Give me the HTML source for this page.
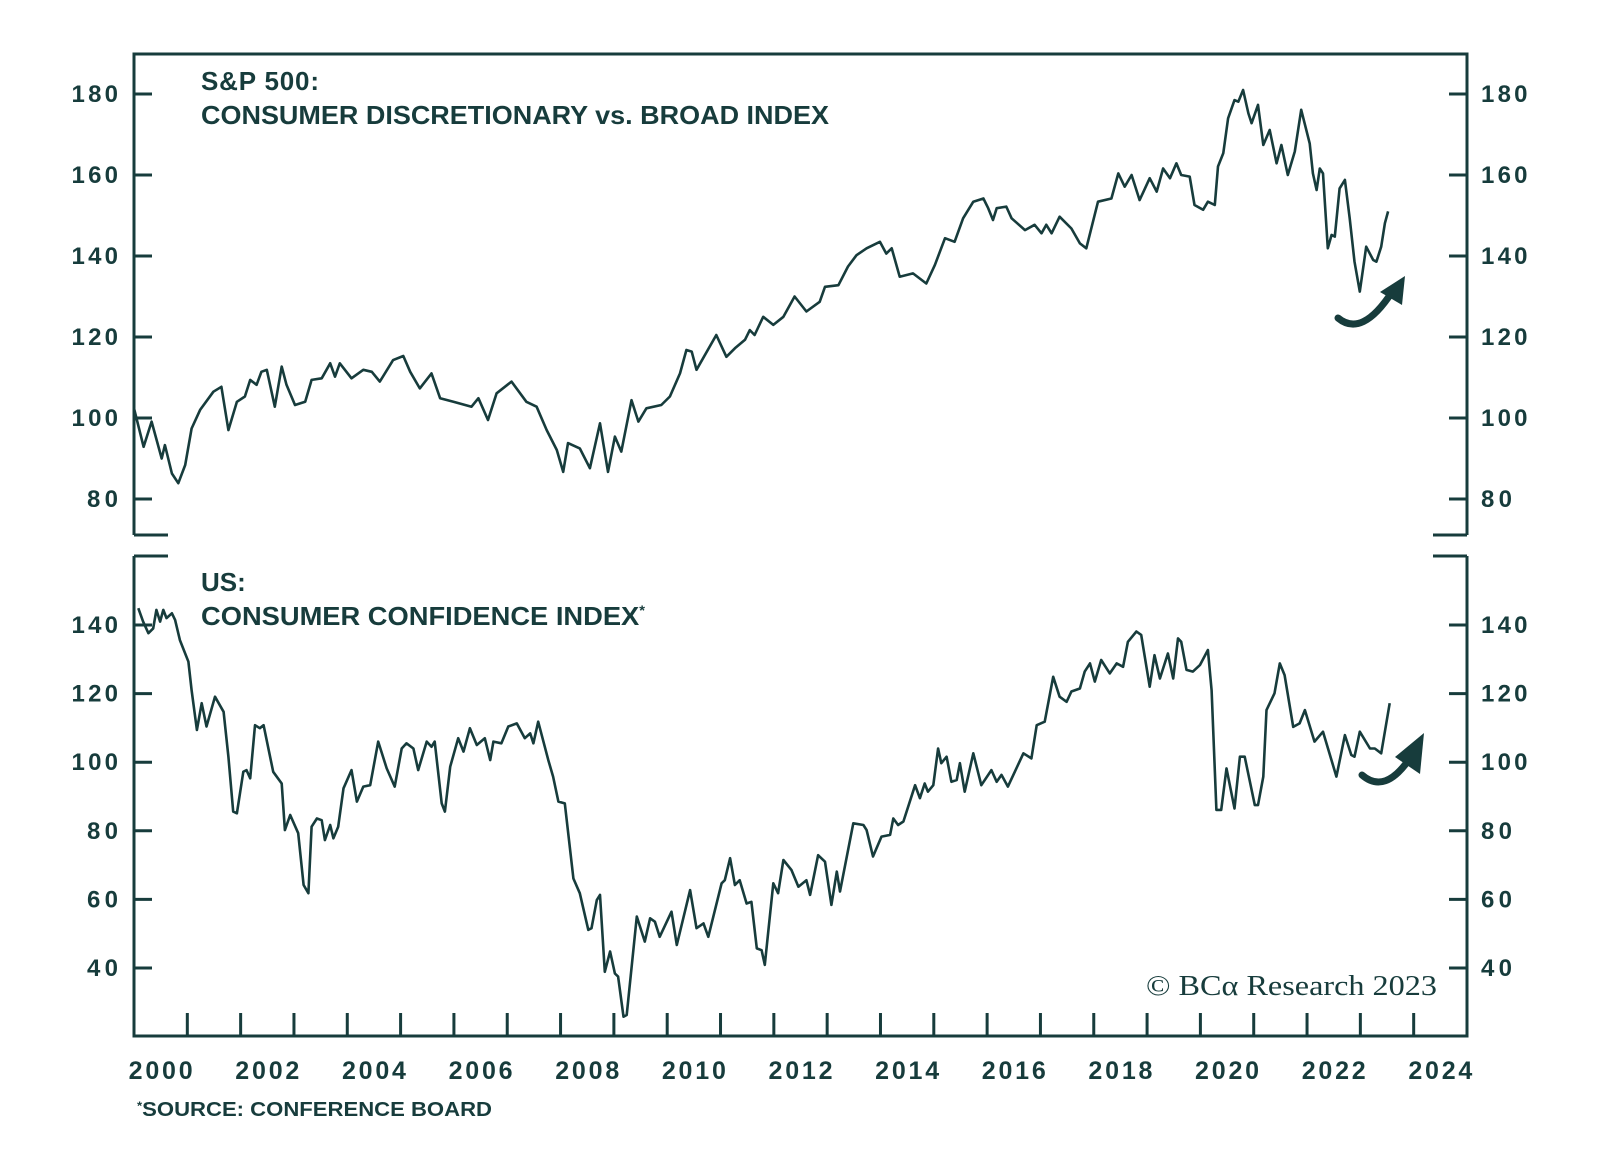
<!DOCTYPE html>
<html><head><meta charset="utf-8"><style>
html,body{margin:0;padding:0;background:#fff;}
svg{display:block;}
text{font-family:"Liberation Sans",sans-serif;fill:#173c3c;}
</style></head><body>
<svg id="chart" width="1600" height="1160" viewBox="0 0 1600 1160">
<g id="frame"></g>
<g id="topG"></g>
<g id="botG"></g>
<text x="201" y="90" font-size="26" font-weight="bold" textLength="118">S&amp;P 500:</text>
<text x="201" y="124" font-size="26" font-weight="bold" textLength="628" lengthAdjust="spacingAndGlyphs">CONSUMER DISCRETIONARY vs. BROAD INDEX</text>
<text x="201" y="591" font-size="26" font-weight="bold">US:</text>
<text x="201" y="625" font-size="26" font-weight="bold" textLength="444" lengthAdjust="spacingAndGlyphs">CONSUMER CONFIDENCE INDEX<tspan font-size="14" dy="-10">*</tspan></text>
<text x="137" y="1116" font-size="20" font-weight="bold" textLength="355" lengthAdjust="spacingAndGlyphs"><tspan font-size="12" dy="-6">*</tspan><tspan dy="6">SOURCE: CONFERENCE BOARD</tspan></text>
<text x="1437" y="995" font-size="28" text-anchor="end" textLength="291" lengthAdjust="spacingAndGlyphs" style="font-family:'Liberation Serif',serif">© BCα Research 2023</text>
<path d="M1338,318 Q1362,338 1392,292" fill="none" stroke="#173c3c" stroke-width="7" stroke-linecap="round"/>
<polygon points="1405,276 1380,292 1402,305" fill="#173c3c"/>
<path d="M1362,775 Q1385,795 1410,758" fill="none" stroke="#173c3c" stroke-width="7" stroke-linecap="round"/>
<polygon points="1424,733 1395,757 1420,774" fill="#173c3c"/>
</svg>
<script>
const yearTicks = [2001,2002,2003,2004,2005,2006,2007,2008,2009,2010,2011,2012,2013,2014,2015,2016,2017,2018,2019,2020,2021,2022,2023,2024];
const yearLabels = [2000,2002,2004,2006,2008,2010,2012,2014,2016,2018,2020,2022,2024];
const topTicks = [80,100,120,140,160,180];
const botTicks = [40,60,80,100,120,140];
const spxYears = [2000,2000.18,2000.33,2000.52,2000.58,2000.71,2000.83,2000.96,2001.08,2001.24,2001.49,2001.64,2001.77,2001.93,2002.08,2002.18,2002.3,2002.39,2002.49,2002.64,2002.77,2002.86,2003.02,2003.21,2003.33,2003.52,2003.68,2003.77,2003.86,2004.08,2004.3,2004.46,2004.61,2004.86,2005.05,2005.18,2005.36,2005.58,2005.74,2005.99,2006.33,2006.46,2006.64,2006.8,2007.08,2007.36,2007.55,2007.74,2007.93,2008.05,2008.14,2008.36,2008.55,2008.74,2008.89,2009.02,2009.14,2009.33,2009.46,2009.61,2009.89,2010.05,2010.24,2010.36,2010.46,2010.55,2010.92,2011.11,2011.27,2011.46,2011.55,2011.64,2011.8,2011.99,2012.18,2012.39,2012.61,2012.86,2012.96,2013.21,2013.39,2013.55,2013.74,2013.99,2014.11,2014.21,2014.36,2014.61,2014.86,2015.02,2015.21,2015.39,2015.55,2015.74,2015.93,2016.02,2016.11,2016.18,2016.36,2016.46,2016.71,2016.89,2017.02,2017.11,2017.21,2017.36,2017.58,2017.74,2017.86,2018.08,2018.33,2018.46,2018.58,2018.71,2018.86,2019.05,2019.18,2019.3,2019.43,2019.55,2019.64,2019.8,2019.89,2020.05,2020.14,2020.27,2020.33,2020.43,2020.52,2020.64,2020.71,2020.8,2020.9,2020.96,2021.08,2021.18,2021.3,2021.43,2021.52,2021.64,2021.77,2021.89,2022.05,2022.11,2022.18,2022.24,2022.3,2022.39,2022.46,2022.52,2022.61,2022.71,2022.8,2022.89,2022.99,2023.11,2023.24,2023.3,2023.39,2023.46,2023.52];
const spxValues = [102.4,92.9,99.1,90,93.3,86.3,83.9,88.4,97.4,102,106.5,107.7,97,104,105.3,109.4,108.2,111.4,111.9,102.8,112.7,108.2,103.2,104,109.4,109.8,113.5,110.2,113.5,109.8,111.9,111.4,109,114.3,115.3,111.4,107.3,111,104.9,104,102.8,104.9,99.5,106.1,109,104,102.8,97,92.1,86.7,93.8,92.5,87.6,98.7,86.7,95.4,91.7,104.4,99.1,102.4,103.2,105.3,111,116.8,116.4,111.9,120.5,115.1,117.2,119.3,121.7,120.5,125,123,125,130,126.3,128.7,132.4,132.8,137.4,140.2,141.9,143.5,140.6,141.9,134.9,135.7,133.2,137.8,144.4,143.5,149.3,153.4,154.2,151.8,148.9,151.8,152.2,149.3,146.4,147.7,145.6,147.7,145.6,149.7,146.8,143.1,141.9,153.4,154.2,160.4,157.1,160,153.8,159.2,155.9,161.6,159.2,162.9,160,159.6,152.6,151.4,153.4,152.6,162.1,165.4,174,178.5,178.1,181,175.2,172.8,177.3,167.4,171.1,162.9,167.4,160,165.8,176.1,167.8,160.4,156.3,161.6,160.4,141.9,145.2,144.8,156.7,158.8,149.3,138.6,131.2,142.3,139,138.6,142.3,148.1,151];
const ccYears = [2000.08,2000.17,2000.27,2000.36,2000.42,2000.49,2000.55,2000.61,2000.71,2000.77,2000.86,2001.02,2001.08,2001.18,2001.27,2001.36,2001.52,2001.68,2001.77,2001.86,2001.93,2002.05,2002.11,2002.18,2002.27,2002.36,2002.43,2002.61,2002.77,2002.83,2002.93,2003.08,2003.18,2003.27,2003.33,2003.43,2003.52,2003.58,2003.68,2003.74,2003.83,2003.93,2004.08,2004.18,2004.3,2004.43,2004.58,2004.74,2004.89,2005.02,2005.11,2005.24,2005.33,2005.49,2005.58,2005.64,2005.77,2005.83,2005.93,2006.08,2006.18,2006.3,2006.43,2006.58,2006.68,2006.74,2006.89,2007.02,2007.18,2007.33,2007.43,2007.49,2007.58,2007.77,2007.86,2007.96,2008.08,2008.24,2008.36,2008.52,2008.58,2008.68,2008.74,2008.83,2008.93,2009.02,2009.08,2009.18,2009.24,2009.43,2009.58,2009.68,2009.77,2009.86,2010.08,2010.18,2010.43,2010.55,2010.68,2010.77,2011.02,2011.08,2011.18,2011.27,2011.36,2011.49,2011.58,2011.68,2011.77,2011.83,2011.99,2012.08,2012.18,2012.33,2012.46,2012.61,2012.68,2012.83,2012.96,2013.08,2013.18,2013.24,2013.49,2013.68,2013.74,2013.86,2014.02,2014.18,2014.24,2014.33,2014.43,2014.65,2014.74,2014.83,2014.89,2014.99,2015.08,2015.14,2015.24,2015.33,2015.43,2015.49,2015.58,2015.74,2015.89,2016.08,2016.18,2016.27,2016.39,2016.52,2016.68,2016.83,2016.93,2017.08,2017.24,2017.36,2017.49,2017.58,2017.74,2017.83,2017.93,2018.02,2018.14,2018.3,2018.43,2018.55,2018.64,2018.8,2018.89,2019.05,2019.14,2019.24,2019.39,2019.49,2019.58,2019.64,2019.74,2019.86,2019.99,2020.14,2020.21,2020.3,2020.39,2020.49,2020.64,2020.74,2020.83,2021.02,2021.08,2021.18,2021.24,2021.39,2021.49,2021.58,2021.74,2021.86,2021.96,2022.14,2022.3,2022.55,2022.71,2022.83,2022.89,2022.99,2023.18,2023.27,2023.39,2023.55];
const ccValues = [144.9,141,137.6,139,144.4,141,144.4,142,143.4,141.5,135.6,129.3,121,109.4,117.2,110.4,119.1,114.7,101.6,85.6,85.1,97.2,97.7,95.3,110.8,109.9,110.8,97.2,93.8,80.2,84.6,79.3,64.2,61.8,81.2,83.6,83.1,77.3,81.7,77.8,81.2,92.4,97.7,88.5,92.9,93.3,106,98.2,92.9,104,105.5,104,97.7,106,104.5,106,88,85.6,98.7,107,103.1,109.9,105,107,100.6,106,105.5,110.4,111.3,107,108.4,105.5,111.8,100.6,95.8,88.5,88,66.1,61.8,51.1,51.6,59.8,61.3,38.9,44.8,38.4,37.5,25.8,26.3,55,47.7,54.5,53.5,49.1,56.4,46.7,62.7,51.6,53,49.1,64.7,65.6,72,64.2,65.6,58.8,59.3,45.7,45.2,40.9,64.7,61.8,71.5,68.6,63.7,65.6,61.3,72.9,71,58.4,68.1,62.3,82.2,81.7,80.2,72.5,78.3,78.8,83.6,81.7,82.7,93.3,89.5,93.8,91.4,93.3,104,99.7,101.6,94.3,94.8,99.7,91.4,102.6,93.3,97.7,94.3,96.3,92.9,97.2,102.6,101.1,110.8,111.8,124.9,119.1,117.6,120.6,121.5,126.4,128.8,123.5,129.8,125.9,128.8,127.8,135.1,138.1,137.1,122,131.2,124.4,131.7,124.4,136.1,135.1,126.9,126.4,128.3,132.7,121,86.1,86.1,98.2,86.5,101.6,101.6,87.5,87.5,95.8,115.2,120.1,128.8,125.4,110.3,111.3,115.2,106,108.9,95.8,107.9,102.1,101.6,108.9,104,104,102.6,117.2];

const NS='http://www.w3.org/2000/svg';
const C='#173c3c';
const L=134, R=1467;
function xs(yr){return L+(yr-2000)*(R-L)/25;}
function yTop(v){return 94+(180-v)*4.05;}
function yBot(v){return 968-(v-40)*3.43;}
function mk(tag,attrs,parent){const e=document.createElementNS(NS,tag);for(const k in attrs)e.setAttribute(k,attrs[k]);parent.appendChild(e);return e;}
const frame=document.getElementById('frame');
const topG=document.getElementById('topG');
const botG=document.getElementById('botG');
const fr=[
 ['top-frame',`M${L},535 L${L},54 L${R},54 L${R},535 M${L},535 L${L+34},535 M${R-34},535 L${R},535`],
 ['bottom-frame',`M${L},556 L${L},1036 L${R},1036 L${R},556 M${L},556 L${L+34},556 M${R-34},556 L${R},556`]
];
fr.forEach(f=>{const p=mk('path',{d:f[1],fill:'none',stroke:C,'stroke-width':3},frame);

});
function yAxis(g,ticks,fy,nm){
 ticks.forEach(v=>{const y=fy(v);
  const t1=mk('line',{x1:L,x2:L+18,y1:y,y2:y,stroke:C,'stroke-width':3},g);
  
  
  const t2=mk('line',{x1:R-18,x2:R,y1:y,y2:y,stroke:C,'stroke-width':3},g);
  
  
  const a=mk('text',{x:118,y:y+8,'font-size':24,'font-weight':'bold','text-anchor':'end',textLength:String(v).length*15.5},g);a.textContent=v;
  
  
  const b=mk('text',{x:1481,y:y+8,'font-size':24,'font-weight':'bold',textLength:String(v).length*15.5},g);b.textContent=v;
  
  
 });
}
yAxis(topG,topTicks,yTop,'top-y-axis');
yAxis(botG,botTicks,yBot,'bottom-y-axis');
yearTicks.forEach(yr=>{const x=xs(yr);
 const t=mk('line',{x1:x,x2:x,y1:1013,y2:1036,stroke:C,'stroke-width':3},frame);
 
 });
yearLabels.forEach(yr=>{const x=xs(yr+0.5);
 const t=mk('text',{x:x,y:1079,'font-size':25,'font-weight':'bold','text-anchor':'middle',textLength:64},frame);t.textContent=yr;
 
 });
function line(g,xsArr,vs,fy,nm){
 const d=xsArr.map((yr,i)=>(i?'L':'M')+xs(yr).toFixed(1)+','+fy(vs[i]).toFixed(1)).join(' ');
 const p=mk('path',{d:d,fill:'none',stroke:C,'stroke-width':2.6,'stroke-linejoin':'round'},g);
 
 
}
line(topG,spxYears,spxValues,yTop,'consumer-discretionary-line');
line(botG,ccYears,ccValues,yBot,'consumer-confidence-line');
</script>
</body></html>
